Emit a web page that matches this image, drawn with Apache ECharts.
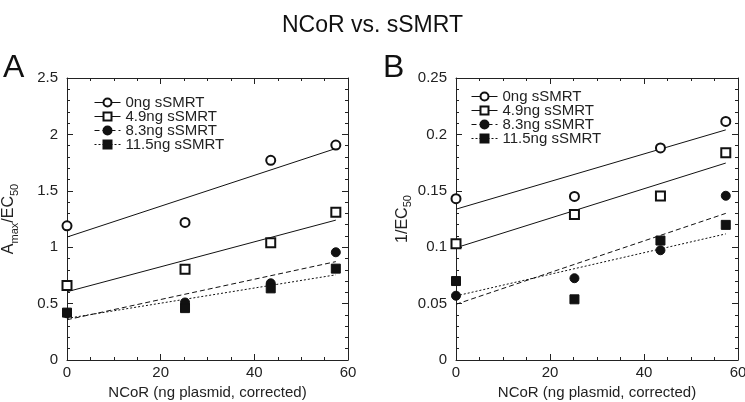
<!DOCTYPE html>
<html><head><meta charset="utf-8">
<script src="https://cdn.jsdelivr.net/npm/echarts@6/dist/echarts.min.js"></script>
<style>html,body{margin:0;padding:0;background:#fff}#c{width:745px;height:402px}</style>
</head><body><div id="c"></div>
<script>
// Data
const seriesNames = ['0ng sSMRT', '4.9ng sSMRT', '8.3ng sSMRT', '11.5ng sSMRT'];
const xValues = [0, 25.2, 43.5, 57.4];
// Panel A: Amax/EC50
const a0ng = [1.19, 1.22, 1.77, 1.905];
const a49ng = [0.66, 0.805, 1.04, 1.31];
const a83ng = [0.414, 0.51, 0.68, 0.955];
const a115ng = [0.42, 0.46, 0.635, 0.81];
// Panel B: 1/EC50
const b0ng = [0.143, 0.145, 0.188, 0.2115];
const b49ng = [0.103, 0.129, 0.1455, 0.1837];
const b83ng = [0.057, 0.0725, 0.0973, 0.1456];
const b115ng = [0.070, 0.0538, 0.1059, 0.1198];
// Fitted lines (start at x=0, end at x=57.4)
const fitX = [0, 57.4];
const fitA = [[1.09, 1.875], [0.605, 1.24], [0.357, 0.872], [0.369, 0.755]];
const fitB = [[0.1337, 0.204], [0.0995, 0.1746], [0.0494, 0.130], [0.0568, 0.1118]];
const xTicks = [0, 20, 40, 60];

const symbols = ['emptyCircle', 'emptyRect', 'circle', 'rect'];
const lineTypes = ['solid', 'solid', [5, 3], [2, 2]];
const FONT = 'Liberation Sans, Arial, sans-serif';
const INK = '#222';

const chart = echarts.init(document.getElementById('c'));

function axisCommon(extra) {
  return Object.assign({
    axisLine: {show: true, onZero: false, lineStyle: {color: INK, width: 1}},
    axisTick: {show: true, inside: true, length: 6, lineStyle: {color: INK}},
    splitLine: {show: false},
    axisLabel: {color: INK, fontSize: 15, fontFamily: FONT}
  }, extra);
}
const minorX = {show: true, splitNumber: 4, length: 3, lineStyle: {color: INK}};
const minorY = {show: true, splitNumber: 5, length: 3, lineStyle: {color: INK}};
const richName = {
  n: {fontSize: 16, lineHeight: 22, color: INK, fontFamily: FONT},
  s: {fontSize: 11, lineHeight: 10, verticalAlign: 'bottom', color: INK, fontFamily: FONT}
};

const grids = [
  {left: 67, top: 78, width: 281, height: 282, containLabel: false, outerBoundsMode: 'none'},
  {left: 456, top: 78, width: 282, height: 282, containLabel: false, outerBoundsMode: 'none'}
];

const xAxes = [], yAxes = [];
[0, 1].forEach(g => {
  xAxes.push(axisCommon({type: 'value', gridIndex: g, min: 0, max: 60, interval: 20,
    minorTick: minorX,
    axisLabel: {color: INK, fontSize: 15, fontFamily: FONT, margin: 5},
    name: 'NCoR (ng plasmid, corrected)', nameLocation: 'middle', nameGap: 25,
    nameTextStyle: {color: INK, fontSize: 15, fontFamily: FONT}}));
  xAxes.push(axisCommon({type: 'value', gridIndex: g, position: 'top', min: 0, max: 60, interval: 20,
    minorTick: minorX, axisLabel: {show: false}}));
});
yAxes.push(axisCommon({type: 'value', gridIndex: 0, min: 0, max: 2.5, interval: 0.5,
  minorTick: minorY,
  axisLabel: {color: INK, fontSize: 15, fontFamily: FONT, margin: 9},
  name: '{n|A}{s|max}{n|/EC}{s|50}', nameLocation: 'middle', nameGap: 47, nameRotate: 90,
  nameTextStyle: {color: INK, fontFamily: FONT, rich: richName}}));
yAxes.push(axisCommon({type: 'value', gridIndex: 0, position: 'right', min: 0, max: 2.5, interval: 0.5,
  minorTick: minorY, axisLabel: {show: false}}));
yAxes.push(axisCommon({type: 'value', gridIndex: 1, min: 0, max: 0.25, interval: 0.05,
  minorTick: minorY,
  axisLabel: {color: INK, fontSize: 15, fontFamily: FONT, margin: 9},
  name: '{n|1/EC}{s|50}', nameLocation: 'middle', nameGap: 39, nameRotate: 90,
  nameTextStyle: {color: INK, fontFamily: FONT, rich: richName}}));
yAxes.push(axisCommon({type: 'value', gridIndex: 1, position: 'right', min: 0, max: 0.25, interval: 0.05,
  minorTick: minorY, axisLabel: {show: false}}));

const series = [];
const dataA = [a0ng, a49ng, a83ng, a115ng];
const dataB = [b0ng, b49ng, b83ng, b115ng];
function addPanel(data, fits, xi, yi) {
  seriesNames.forEach((name, i) => {
    series.push({
      type: 'line', name: name, xAxisIndex: xi, yAxisIndex: yi,
      data: fitX.map((x, k) => [x, fits[i][k]]),
      symbol: symbols[i], symbolSize: 9, showSymbol: false,
      lineStyle: {color: '#111', width: 1, type: lineTypes[i]},
      itemStyle: {color: '#111', borderColor: '#111', borderWidth: 1},
      silent: true, animation: false, z: 2
    });
  });
  seriesNames.forEach((name, i) => {
    series.push({
      type: 'scatter', name: name, xAxisIndex: xi, yAxisIndex: yi,
      data: xValues.map((x, k) => [x, data[i][k]]),
      symbol: symbols[i], symbolSize: 9,
      itemStyle: {color: '#111', borderColor: '#111', borderWidth: 1, opacity: 1},
      animation: false, z: 3
    });
  });
}
addPanel(dataA, fitA, 0, 0);
addPanel(dataB, fitB, 2, 2);

function legend(left, top) {
  return {
    data: seriesNames, orient: 'vertical', left: left, top: top,
    itemWidth: 26, itemHeight: 10, itemGap: -1, padding: 0,
    lineStyle: {width: 1},
    textStyle: {color: INK, fontSize: 15, fontFamily: FONT},
    selectedMode: false
  };
}

chart.setOption({
  backgroundColor: '#fff',
  animation: false,
  title: [
    {text: 'NCoR vs. sSMRT', left: 'center', top: 9, textStyle: {fontSize: 23, fontWeight: 'normal', color: '#111', fontFamily: FONT}},
    {text: 'A', left: 3, top: 52, padding: 0, textStyle: {fontSize: 32, fontWeight: 'normal', color: '#111', fontFamily: FONT}},
    {text: 'B', left: 383, top: 52, padding: 0, textStyle: {fontSize: 32, fontWeight: 'normal', color: '#111', fontFamily: FONT}}
  ],
  legend: [legend(94, 95), legend(471, 89)],
  grid: grids,
  xAxis: xAxes,
  yAxis: yAxes,
  series: series
});
</script></body></html>
